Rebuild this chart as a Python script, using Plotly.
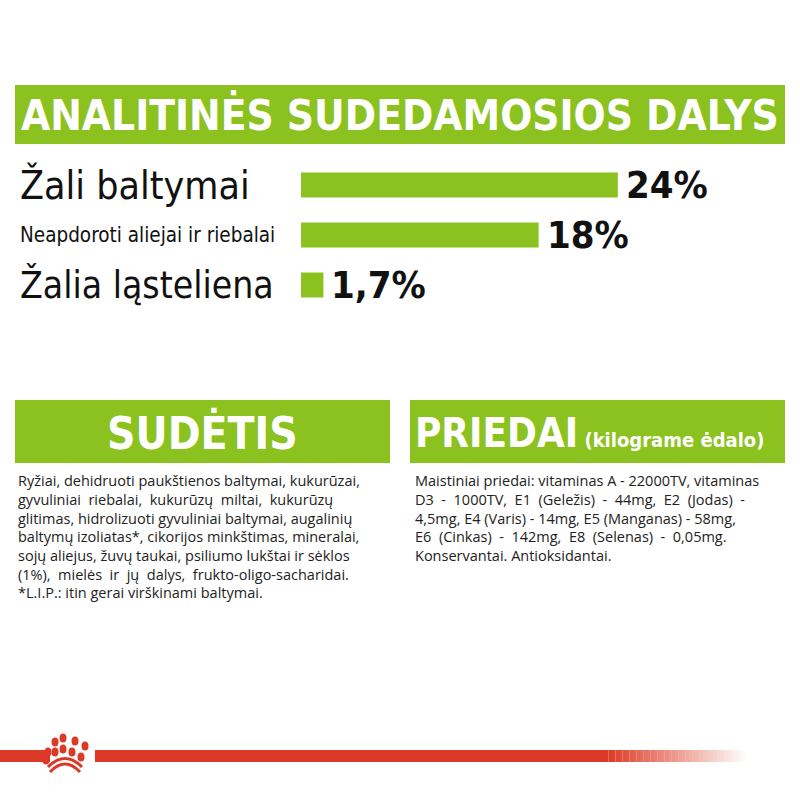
import plotly.graph_objects as go

GREEN = '#8cc21f'
RED = '#dc3a26'

nutrients = ['Žali baltymai', 'Neapdoroti aliejai ir riebalai', 'Žalia ląsteliena']
values = [24, 18, 1.7]
value_labels = ['24%', '18%', '1,7%']
label_sizes = [39, 20.5, 37]

composition_lines = [
    'Ryžiai, dehidruoti paukštienos baltymai, kukurūzai,',
    'gyvuliniai  riebalai,  kukurūzų  miltai,  kukurūzų',
    'glitimas, hidrolizuoti gyvuliniai baltymai, augalinių',
    'baltymų izoliatas*, cikorijos minkštimas, mineralai,',
    'sojų aliejus, žuvų taukai, psiliumo lukštai ir sėklos',
    '(1%),  mielės  ir  jų  dalys,  frukto-oligo-sacharidai.',
    '*L.I.P.: itin gerai virškinami baltymai.',
]
additive_lines = [
    'Maistiniai priedai: vitaminas A - 22000TV, vitaminas',
    'D3  -  1000TV,  E1  (Geležis)  -  44mg,  E2  (Jodas)  -',
    '4,5mg, E4 (Varis) - 14mg, E5 (Manganas) - 58mg,',
    'E6  (Cinkas)  -  142mg,  E8  (Selenas)  -  0,05mg.',
    'Konservantai. Antioksidantai.',
]

W = H = 800
def py(p):
    return 1 - p / H

fig = go.Figure()
fig.add_trace(go.Bar(
    x=values, y=nutrients, orientation='h', width=0.5,
    marker=dict(color=GREEN, line=dict(width=0)), hoverinfo='skip',
))

annotations = []
shapes = []

def note(x, y, text, size, color='#111', family='DejaVu Sans Condensed', xanchor='left', xref='paper', yref='paper'):
    annotations.append(dict(x=x, y=y, xref=xref, yref=yref, text=text, showarrow=False,
                            xanchor=xanchor, yanchor='middle',
                            font=dict(size=size, color=color, family=family)))

for name, v, lab, sz in zip(nutrients, values, value_labels, label_sizes):
    note(v, name, f'<b>{lab}</b>', 38, xref='x', yref='y')
    annotations[-1]['xshift'] = 6
    note(18 / W, name, name, sz, yref='y')

def box(x0, x1, y0, y1):
    shapes.append(dict(type='rect', xref='paper', yref='paper', x0=x0 / W, x1=x1 / W,
                       y0=py(y1), y1=py(y0), fillcolor=GREEN, line=dict(width=0), layer='below'))

box(15, 785, 85, 144)
note(400 / W, py(115), '<b>ANALITINĖS SUDEDAMOSIOS DALYS</b>', 42, color='white', xanchor='center')
box(15, 390, 400, 463)
box(410, 785, 400, 463)
note(202 / W, py(433), '<b>SUDĖTIS</b>', 44, color='white', xanchor='center')
note(413 / W, py(433), '<b>PRIEDAI</b><span style="font-size:20px"><b> (kilograme ėdalo)</b></span>',
     40, color='white')

for i, line in enumerate(composition_lines):
    note(16 / W, py(481 + i * 18.6), line, 14.5, color='#222', family='Open Sans')
for i, line in enumerate(additive_lines):
    note(413 / W, py(481 + i * 18.6), line, 14.5, color='#222', family='Open Sans')

# red band with fade at the right end
def rect(x0, x1, y0, y1, color, op=1.0):
    shapes.append(dict(type='rect', xref='paper', yref='paper', x0=x0 / W, x1=x1 / W,
                       y0=py(y1), y1=py(y0), fillcolor=color, opacity=op, line=dict(width=0)))

rect(0, 50, 750, 762, RED)
rect(95, 605, 750, 762, RED)
steps = 40
for k in range(steps):
    rect(605 + k * 3.5, 608.5 + k * 3.5, 750, 762, RED, 1 - k / steps)

# crown
dots = [(48, 752), (55, 742), (63, 738), (75, 741), (85, 746),
        (46, 760), (55, 752), (63, 749), (72, 752), (81, 757)]
for cx, cy in dots:
    shapes.append(dict(type='circle', xref='paper', yref='paper',
                       x0=(cx - 3.5) / W, x1=(cx + 3.5) / W, y0=py(cy + 4.5), y1=py(cy - 4.5),
                       fillcolor=RED, line=dict(width=0)))
shapes.append(dict(type='path', xref='paper', yref='paper',
                   path=f'M {50/W} {py(772)} Q {65/W} {py(756)} {80/W} {py(772)}',
                   line=dict(color=RED, width=3)))
shapes.append(dict(type='path', xref='paper', yref='paper',
                   path=f'M {48/W} {py(767)} Q {65/W} {py(750)} {82/W} {py(767)}',
                   line=dict(color=RED, width=3)))

fig.update_layout(
    width=W, height=H, margin=dict(l=0, r=0, t=0, b=0),
    paper_bgcolor='rgba(0,0,0,0)', plot_bgcolor='rgba(0,0,0,0)', showlegend=False,
    xaxis=dict(domain=[301 / W, 1], range=[0, 499 / 13.2], visible=False, fixedrange=True),
    yaxis=dict(domain=[py(310), py(160)], range=[2.5, -0.5], visible=False, fixedrange=True),
    annotations=annotations, shapes=shapes,
)

fig.write_html('out.html', config={'displayModeBar': False},
               post_script="document.body.style.margin='0';document.body.style.overflow='hidden';")
